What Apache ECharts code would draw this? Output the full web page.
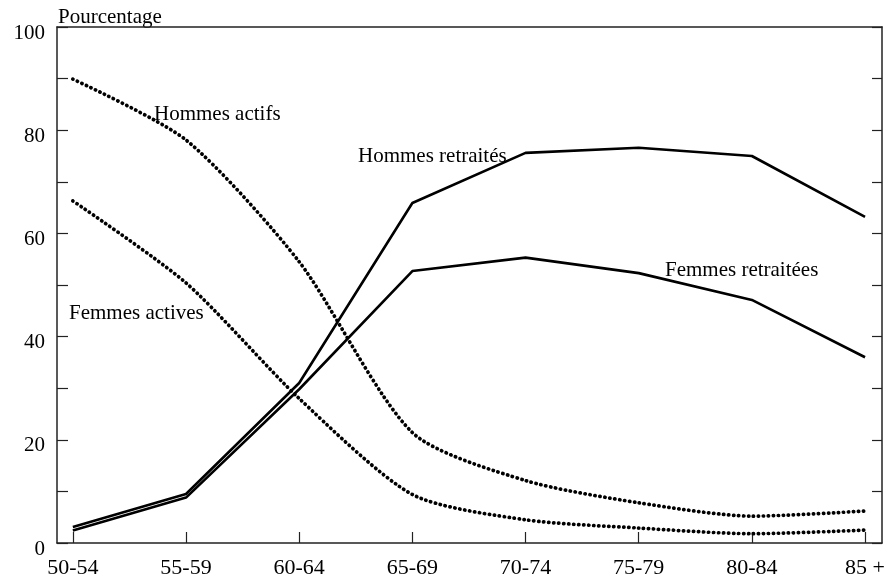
<!DOCTYPE html>
<html>
<head>
<meta charset="utf-8">
<script src="https://cdn.jsdelivr.net/npm/echarts@6/dist/echarts.min.js"></script>
<style>html,body{margin:0;padding:0;background:#fff}#c{width:888px;height:580px}</style>
</head>
<body>
<div id="c"></div>
<script>
var categories = ['50-54','55-59','60-64','65-69','70-74','75-79','80-84','85 +'];
var hommesActifs = [89.9, 78.1, 54.5, 21.4, 12.1, 7.8, 5.2, 6.2];
var femmesActives = [66.3, 50.4, 28.0, 9.4, 4.5, 2.9, 1.8, 2.5];
var hommesRetraites = [3.1, 9.5, 31.0, 65.9, 75.6, 76.6, 75.0, 63.2];
var femmesRetraitees = [2.4, 8.8, 29.8, 52.7, 55.3, 52.3, 47.1, 36.0];
var yLabels = [0, 20, 40, 60, 80, 100];

function pairs(arr){ return arr.map(function(v,i){ return [i, v]; }); }
var idx = categories.map(function(c,i){ return i; });
var FONT = 'Liberation Serif';
var axisCol = '#222';

var chart = echarts.init(document.getElementById('c'), null, {renderer:'canvas'});
var dotted = {color:'#000', width:3.7, type:[0.3,4.7], cap:'round'};
var solid = {color:'#000', width:2.6};
chart.setOption({
  animation:false,
  backgroundColor:'#fff',
  grid:{left:57, right:3, top:27, bottom:37},
  xAxis:[{
    type:'value', min:-0.14, max:7.15, position:'bottom',
    axisLine:{show:true, onZero:false, lineStyle:{color:axisCol, width:1.5}},
    axisTick:{show:true, inside:true, length:11, customValues:idx, lineStyle:{color:axisCol, width:1.2}},
    axisLabel:{customValues:idx, margin:14, color:'#000', fontFamily:FONT, fontSize:22,
      formatter:function(v){ return categories[Math.round(v)]; }},
    splitLine:{show:false}
  },{
    type:'value', min:-0.14, max:7.15, position:'top',
    axisLine:{show:true, onZero:false, lineStyle:{color:axisCol, width:1.5}},
    axisTick:{show:false}, axisLabel:{show:false}, splitLine:{show:false}
  }],
  yAxis:[{
    type:'value', min:0, max:100, interval:10, position:'left',
    axisLine:{show:true, onZero:false, lineStyle:{color:axisCol, width:1.5}},
    axisTick:{show:true, inside:true, length:11, lineStyle:{color:axisCol, width:1.2}},
    axisLabel:{customValues:yLabels, margin:12, color:'#000', fontFamily:FONT, fontSize:21,
      formatter:function(v){ return '{a|' + v + '}'; },
      rich:{a:{fontFamily:FONT, fontSize:21, color:'#000', padding:[12,0,0,0]}}},
    splitLine:{show:false}
  },{
    type:'value', min:0, max:100, interval:10, position:'right',
    axisLine:{show:true, onZero:false, lineStyle:{color:axisCol, width:1.5}},
    axisTick:{show:true, inside:true, length:10, lineStyle:{color:axisCol, width:1.2}},
    axisLabel:{show:false}, splitLine:{show:false}
  }],
  series:[
    {name:'Hommes actifs', type:'line', data:pairs(hommesActifs), smooth:0.25, symbol:'none', lineStyle:dotted},
    {name:'Femmes actives', type:'line', data:pairs(femmesActives), smooth:0.25, symbol:'none', lineStyle:dotted},
    {name:'Hommes retraités', type:'line', data:pairs(hommesRetraites), symbol:'none', lineStyle:solid},
    {name:'Femmes retraitées', type:'line', data:pairs(femmesRetraitees), symbol:'none', lineStyle:solid}
  ],
  graphic:[
    {type:'text', left:58, top:7, style:{text:'Pourcentage', font:'21px "Liberation Serif"', fill:'#000'}},
    {type:'text', left:154, top:104, style:{text:'Hommes actifs', font:'21px "Liberation Serif"', fill:'#000'}},
    {type:'text', left:358, top:146, style:{text:'Hommes retraités', font:'21px "Liberation Serif"', fill:'#000'}},
    {type:'text', left:665, top:260, style:{text:'Femmes retraitées', font:'21px "Liberation Serif"', fill:'#000'}},
    {type:'text', left:69, top:303, style:{text:'Femmes actives', font:'21px "Liberation Serif"', fill:'#000'}}
  ]
});
</script>
</body>
</html>
